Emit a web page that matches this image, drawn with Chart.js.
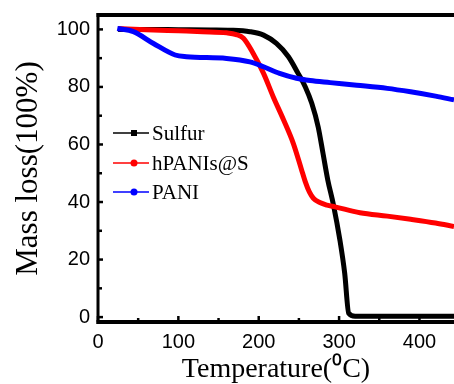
<!DOCTYPE html>
<html>
<head>
<meta charset="utf-8">
<script src="https://cdn.jsdelivr.net/npm/chart.js@4.4.1/dist/chart.umd.min.js"></script>
<style>
  html, body { margin: 0; padding: 0; background: #fff; }
  #wrap { width: 454px; height: 384px; position: relative; }
</style>
</head>
<body>
<div id="wrap"><canvas id="tga"></canvas></div>
<script>
// ---------------- Data ----------------
const seriesNames = ["Sulfur", "hPANIs@S", "PANI"];

const sulfurT    = [25, 60, 100, 140, 165, 189, 206, 222, 237, 249, 258, 266, 274, 280, 286, 293, 301, 307, 312, 320, 380, 443];
const sulfurMass = [100, 100, 99.9, 99.8, 99.7, 99.2, 98, 95.1, 90.5, 84.7, 80, 74.3, 66.1, 56.9, 47.6, 39, 26.8, 15.2, 1.3, 0.3, 0.3, 0.3];

const hpaniT    = [25, 60, 100, 130, 160, 172, 181, 193, 206, 218, 231, 243, 253, 258, 263, 268, 276, 285, 295, 326, 360, 389, 420, 443];
const hpaniMass = [100.3, 99.9, 99.5, 99.2, 98.8, 98.2, 96.9, 91.7, 84.7, 76.6, 68.5, 60.4, 51.5, 47, 43.5, 41.3, 39.8, 38.9, 38.3, 36.3, 35.1, 34, 32.7, 31.5];

const paniT    = [24, 44, 69, 96, 110, 160, 189, 206, 226, 247, 264, 289, 322, 360, 389, 420, 443];
const paniMass = [100.3, 99.2, 95.1, 91.1, 90.5, 89.9, 88.7, 87, 84.7, 83, 82.2, 81.5, 80.6, 79.5, 78.3, 76.8, 75.5];

const xTicks = [0, 100, 200, 300, 400];
const xMinor = [50, 150, 250, 350];
const yTicks = [0, 20, 40, 60, 80, 100];
const yMinor = [10, 30, 50, 70, 90];

// ---------------- Helpers ----------------
function toPoints(xs, ys) {
  return xs.map((x, i) => ({ x, y: ys[i] }));
}

const tickFont = { family: "'Liberation Sans', Arial, sans-serif", size: 20 };
const serif = "'Liberation Serif', 'Times New Roman', serif";

// ---------------- Frame, inward ticks, legend ----------------
const framePlugin = {
  id: "frame",
  afterDraw(chart) {
    const { ctx, chartArea: a, scales: { x, y } } = chart;
    ctx.save();
    ctx.strokeStyle = "#000";
    ctx.lineCap = "butt";

    ctx.lineWidth = 2.5;
    const tick = (x0, y0, x1, y1) => {
      ctx.beginPath(); ctx.moveTo(x0, y0); ctx.lineTo(x1, y1); ctx.stroke();
    };
    xTicks.forEach(v => { const p = x.getPixelForValue(v); tick(p, a.bottom, p, a.bottom - 6); });
    xMinor.forEach(v => { const p = x.getPixelForValue(v); tick(p, a.bottom, p, a.bottom - 4); });
    yTicks.forEach(v => { const p = y.getPixelForValue(v); tick(a.left, p, a.left + 5, p); });
    yMinor.forEach(v => { const p = y.getPixelForValue(v); tick(a.left, p, a.left + 4, p); });

    // axes box (no right edge in the original crop)
    ctx.lineWidth = 4;
    tick(a.left - 1.5, a.top, a.right, a.top);
    tick(a.left - 1.5, a.bottom, a.right, a.bottom);
    ctx.lineWidth = 3;
    tick(a.left, a.top - 2, a.left, a.bottom + 2);

    // legend
    const rows = [133, 163, 192];
    chart.data.datasets.forEach((ds, i) => {
      const ry = rows[i];
      ctx.strokeStyle = ds.borderColor;
      ctx.fillStyle = ds.borderColor;
      ctx.lineWidth = 1.5;
      tick(113, ry, 149, ry);
      if (ds.legendMarker === "rect") {
        ctx.fillRect(131, ry - 3, 6, 6);
      } else {
        ctx.beginPath(); ctx.arc(134, ry, 3.5, 0, Math.PI * 2); ctx.fill();
      }
      ctx.fillStyle = "#000";
      ctx.font = `21px ${serif}`;
      ctx.textBaseline = "alphabetic";
      ctx.textAlign = "left";
      ctx.fillText(ds.label, 152, ry + 7);
    });
    ctx.restore();
  }
};

// ---------------- Chart ----------------
new Chart(document.getElementById("tga"), {
  type: "line",
  data: {
    datasets: [
      { label: seriesNames[0], data: toPoints(sulfurT, sulfurMass), borderColor: "#000000", legendMarker: "rect", order: 3 },
      { label: seriesNames[1], data: toPoints(hpaniT, hpaniMass), borderColor: "#ff0000", legendMarker: "circle", order: 2 },
      { label: seriesNames[2], data: toPoints(paniT, paniMass), borderColor: "#0000ff", legendMarker: "circle", order: 1 }
    ]
  },
  options: {
    responsive: true,
    maintainAspectRatio: false,
    animation: false,
    events: [],
    layout: { autoPadding: false, padding: { left: 0, top: 15, right: 0, bottom: 0 } },
    elements: {
      line: { borderWidth: 5, cubicInterpolationMode: "monotone", fill: false },
      point: { radius: 0 }
    },
    plugins: { legend: { display: false }, tooltip: { enabled: false } },
    scales: {
      x: {
        type: "linear",
        min: 0,
        max: 443,
        afterBuildTicks: s => { s.ticks = xTicks.map(v => ({ value: v })); },
        afterFit: s => { s.height = 62; s.paddingLeft = 0; s.paddingRight = 0; },
        grid: { display: false, drawTicks: false },
        border: { display: false },
        ticks: { color: "#000", font: tickFont, padding: 8, maxRotation: 0 },
        title: {
          display: true,
          text: "Temperature(⁰C)",
          color: "#000",
          font: { family: serif, size: 28, lineHeight: 1 },
          padding: { top: 0, bottom: 0 }
        }
      },
      y: {
        min: -1.7,
        max: 105,
        afterBuildTicks: s => { s.ticks = yTicks.map(v => ({ value: v })); },
        afterFit: s => { s.width = 98; s.paddingTop = 0; s.paddingBottom = 0; },
        grid: { display: false, drawTicks: false },
        border: { display: false },
        ticks: { color: "#000", font: tickFont, padding: 8 },
        title: {
          display: true,
          text: "Mass loss(100%)",
          color: "#000",
          font: { family: serif, size: 31, lineHeight: 1 },
          padding: { top: 13, bottom: 0 }
        }
      }
    }
  },
  plugins: [framePlugin]
});
</script>
</body>
</html>
